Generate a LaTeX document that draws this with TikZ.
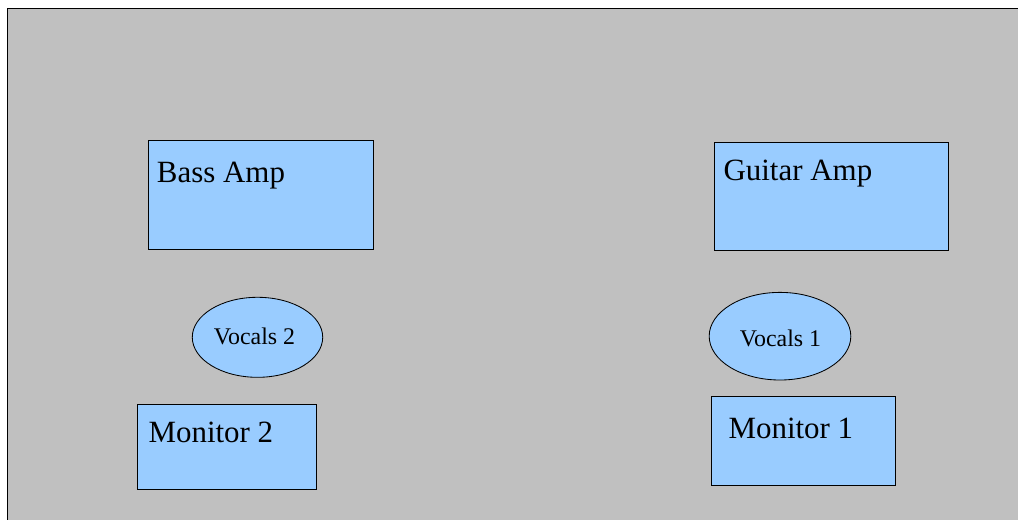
\documentclass[tikz,border=0pt]{standalone}
\usepackage{fontspec}
\setmainfont{Liberation Serif}
\usepackage{tikz}
\definecolor{stagegrey}{HTML}{C0C0C0}
\definecolor{gearblue}{HTML}{99CCFF}
\tikzset{
	gear/.style={fill=gearblue, draw=black, line width=0.6pt},
	boxlabel/.style={anchor=base west, inner sep=0pt, font=\fontsize{22}{26}\selectfont},
	mikelabel/.style={anchor=base, inner sep=0pt, font=\fontsize{17}{20}\selectfont}
}

\begin{document}
\begin{tikzpicture}[x=0.025cm, y=-0.025cm]
			%%%%% START %%%%%
			
			\useasboundingbox (0, 0) rectangle (1018, 519);
			\clip (0, 0) rectangle (1018, 519);
			
			\draw[fill=stagegrey, line width=0.9pt] (7.5, 8.3) rectangle (1030, 530);
			
			\draw[gear] (148.3, 140.7) rectangle (373.7, 249);
			\node[boxlabel] (bassamp) at (156.7, 182) {Bass Amp};
			
			\draw[gear] (714.3, 142.3) rectangle (948.3, 250.7);
			\node[boxlabel] (guitaramp) at (723.3, 180) {Guitar Amp};
			
			\draw[gear] (257.5, 337.3) ellipse (1.63cm and 1.0cm);
			\node[mikelabel] (vocalstwo) at (254.5, 344) {Vocals 2};
			
			\draw[gear] (780, 336.2) ellipse (1.77cm and 1.095cm);
			\node[mikelabel] (vocalsone) at (780.5, 346.5) {Vocals 1};
			
			\draw[gear] (137, 404.7) rectangle (316, 489);
			\node[boxlabel] (monitortwo) at (148.3, 442.7) {Monitor 2};
			
			\draw[gear] (711.7, 396.7) rectangle (895.3, 485.7);
			\node[boxlabel] (monitorone) at (728.3, 438.3) {Monitor 1};
			
			%%%%% END %%%%%
		\end{tikzpicture}
\end{document}
